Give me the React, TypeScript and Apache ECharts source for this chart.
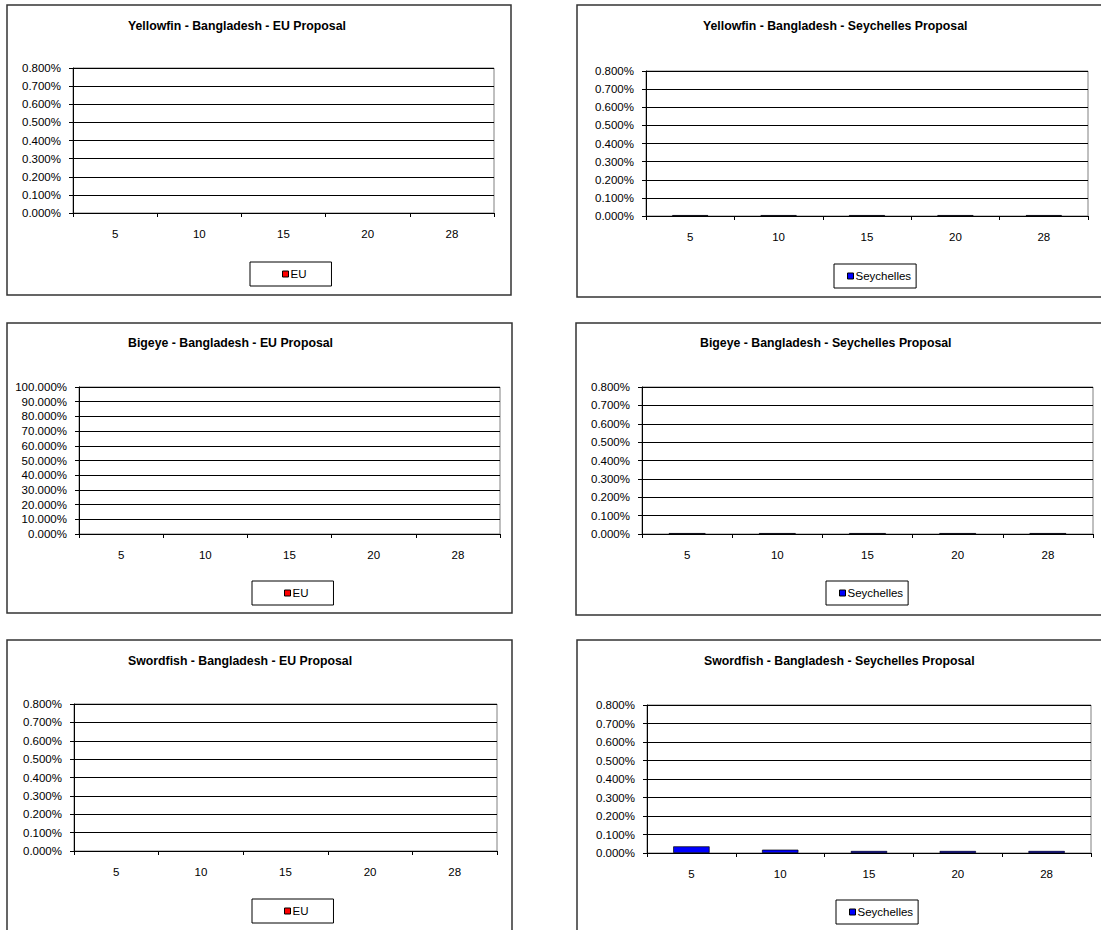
import React, { useEffect, useRef } from "react";
import * as echarts from "echarts";

const categories = ["5", "10", "15", "20", "28"];

// values in percent units
const yellowfinEU = [0, 0, 0, 0, 0];
const yellowfinSeychelles = [0.005, 0.005, 0.005, 0.005, 0.005];
const bigeyeEU = [0, 0, 0, 0, 0];
const bigeyeSeychelles = [0.005, 0.005, 0.005, 0.005, 0.005];
const swordfishEU = [0, 0, 0, 0, 0];
const swordfishSeychelles = [0.036, 0.018, 0.011, 0.011, 0.011];

const titles = [
  "Yellowfin - Bangladesh - EU Proposal",
  "Yellowfin - Bangladesh - Seychelles Proposal",
  "Bigeye - Bangladesh - EU Proposal",
  "Bigeye - Bangladesh - Seychelles Proposal",
  "Swordfish - Bangladesh - EU Proposal",
  "Swordfish - Bangladesh - Seychelles Proposal",
];

const yMax = [0.8, 0.8, 100, 0.8, 0.8, 0.8];
const yInterval = [0.1, 0.1, 10, 0.1, 0.1, 0.1];

const FONT = "'Liberation Sans', Arial, sans-serif";

export default function App() {
  const ref = useRef<HTMLDivElement>(null);
  useEffect(() => {
    document.body.style.margin = "0";
    const chart = echarts.init(ref.current!, null, { renderer: "svg" });

    const seriesData = [
      yellowfinEU,
      yellowfinSeychelles,
      bigeyeEU,
      bigeyeSeychelles,
      swordfishEU,
      swordfishSeychelles,
    ];
    const names = ["EU", "Seychelles", "EU", "Seychelles", "EU", "Seychelles"];
    const colors = ["#FF0000", "#0000FF", "#FF0000", "#0000FF", "#FF0000", "#0000FF"];

    const grids = [
      { left: 73, top: 68, width: 421, height: 145 },
      { left: 646, top: 71, width: 442, height: 145 },
      { left: 79, top: 387, width: 421, height: 147 },
      { left: 642, top: 387, width: 451, height: 147 },
      { left: 74, top: 704, width: 423, height: 147 },
      { left: 647, top: 705, width: 444, height: 148 },
    ];
    const panels = [
      { x: 7, y: 5, width: 504, height: 290 },
      { x: 577, y: 5, width: 540, height: 292 },
      { x: 7, y: 323, width: 505, height: 290 },
      { x: 576, y: 323, width: 540, height: 292 },
      { x: 7, y: 640, width: 505, height: 310 },
      { x: 577, y: 640, width: 540, height: 310 },
    ];
    const titlePos = [
      { left: 128, top: 20 },
      { left: 703, top: 20 },
      { left: 128, top: 337 },
      { left: 700, top: 337 },
      { left: 128, top: 655 },
      { left: 704, top: 655 },
    ];
    const legendPos = [
      { left: 250, top: 262, padding: [6, 25, 6, 32] },
      { left: 834, top: 264, padding: [6, 5, 6, 13] },
      { left: 252, top: 581, padding: [6, 25, 6, 32] },
      { left: 826, top: 581, padding: [6, 5, 6, 13] },
      { left: 252, top: 899, padding: [6, 25, 6, 32] },
      { left: 836, top: 900, padding: [6, 5, 6, 13] },
    ];

    const option: any = {
      animation: false,
      backgroundColor: "#ffffff",
      textStyle: { fontFamily: FONT },
      graphic: panels.map((p) => ({
        type: "rect",
        shape: p,
        style: { fill: "none", stroke: "#333333", lineWidth: 1.5 },
        z: 0,
      })),
      title: titles.map((t, i) => ({
        text: t,
        left: titlePos[i].left,
        top: titlePos[i].top,
        padding: 0,
        textStyle: { fontFamily: FONT, fontSize: 12.3, fontWeight: "bold", color: "#000" },
      })),
      legend: names.map((n, i) => ({
        data: [n],
        left: legendPos[i].left,
        top: legendPos[i].top,
        padding: legendPos[i].padding,
        borderColor: "#000",
        borderWidth: 1,
        borderRadius: 0,
        icon: "rect",
        itemWidth: 6,
        itemHeight: 6,
        itemGap: 2,
        selectedMode: false,
        itemStyle: { color: colors[i], borderColor: "#000", borderWidth: 1 },
        textStyle: { fontFamily: FONT, fontSize: 11.5, color: "#000", padding: [0, 0, 0, -3] },
      })),
      grid: grids.map((g) => ({
        ...g,
        show: true,
        borderColor: "#808080",
        borderWidth: 1,
        backgroundColor: "#fff",
        containLabel: false,
      })),
      xAxis: grids.map((_, i) => ({
        type: "category",
        gridIndex: i,
        data: categories,
        boundaryGap: true,
        axisLine: { show: true, lineStyle: { color: "#000", width: 1 } },
        axisTick: { show: true, length: 4, inside: false, alignWithLabel: false, lineStyle: { color: "#000" } },
        axisLabel: { fontFamily: FONT, fontSize: 11.5, color: "#000", margin: 15 },
        splitLine: { show: false },
      })),
      yAxis: grids.map((_, i) => ({
        type: "value",
        gridIndex: i,
        min: 0,
        max: yMax[i],
        interval: yInterval[i],
        axisLine: { show: true, lineStyle: { color: "#000", width: 1 } },
        axisTick: { show: true, length: 4, inside: false, lineStyle: { color: "#000" } },
        axisLabel: {
          fontFamily: FONT,
          fontSize: 11.5,
          color: "#000",
          margin: 12,
          formatter: (v: number) => v.toFixed(3) + "%",
        },
        splitLine: { show: true, lineStyle: { color: "#000", width: 1 } },
      })),
      series: seriesData.map((d, i) => ({
        type: "bar",
        name: names[i],
        xAxisIndex: i,
        yAxisIndex: i,
        data: d,
        barWidth: "41%",
        itemStyle: {
          color: colors[i],
          borderColor: "#000",
          borderWidth: names[i] === "EU" ? 0 : 0.7,
        },
      })),
    };
    chart.setOption(option);
    return () => chart.dispose();
  }, []);
  return (
    <div
      ref={ref}
      style={{ position: "absolute", left: 0, top: 0, width: 1101, height: 930 }}
    />
  );
}
